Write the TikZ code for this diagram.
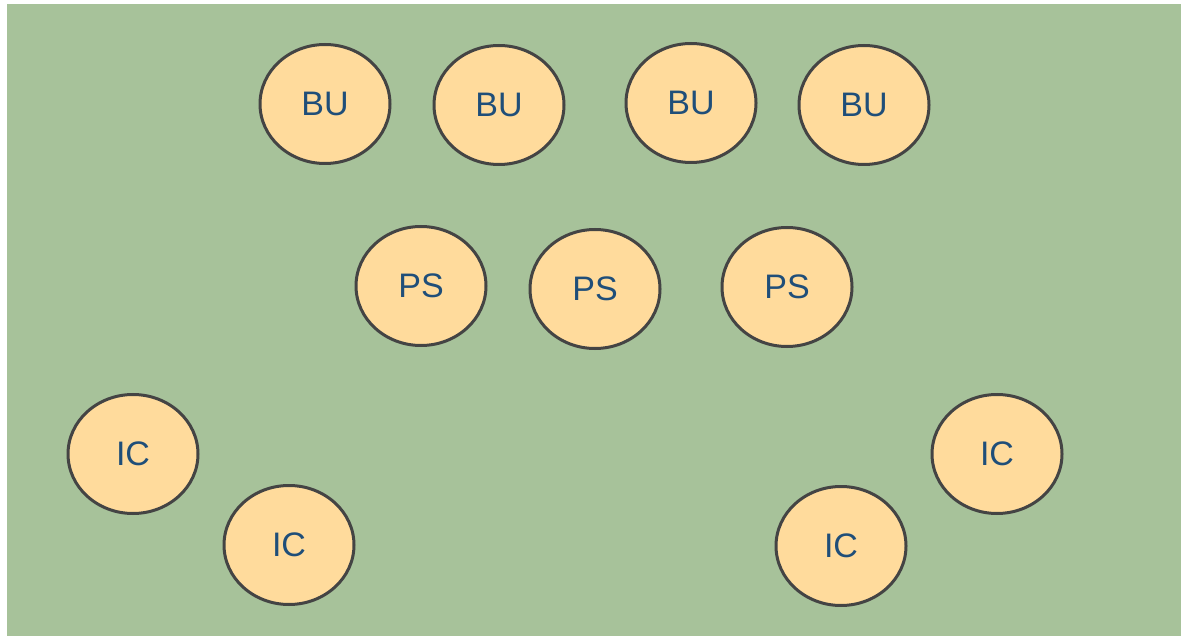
\documentclass[tikz,border=0pt]{standalone}
\usepackage{fontspec}
\setmainfont{Liberation Sans}
\usetikzlibrary{shapes.geometric}
\definecolor{bg}{HTML}{A7C29A}
\definecolor{nodefill}{HTML}{FFDB9C}
\definecolor{nodeline}{HTML}{444444}
\definecolor{nodetext}{HTML}{1F4E79}
\begin{document}
\begin{tikzpicture}[x=1pt,y=-1pt,
  unit/.style={ellipse,draw=nodeline,fill=nodefill,line width=3pt,
    minimum width=130pt,minimum height=119pt,inner sep=0pt,
    text=nodetext,font=\fontsize{34}{38}\selectfont}]
\useasboundingbox (0,0) rectangle (1181,636);
\fill[bg] (7,4) rectangle (1181,636);
\node[unit] (bu1) at (325,104) {BU};
\node[unit] (bu2) at (499,105) {BU};
\node[unit] (bu3) at (691,103) {BU};
\node[unit] (bu4) at (864,105) {BU};
\node[unit] (ps1) at (421,286) {PS};
\node[unit] (ps2) at (595,289) {PS};
\node[unit] (ps3) at (787,287) {PS};
\node[unit] (ic1) at (133,454) {IC};
\node[unit] (ic2) at (289,545) {IC};
\node[unit] (ic3) at (841,546) {IC};
\node[unit] (ic4) at (997,454) {IC};
\end{tikzpicture}
\end{document}
